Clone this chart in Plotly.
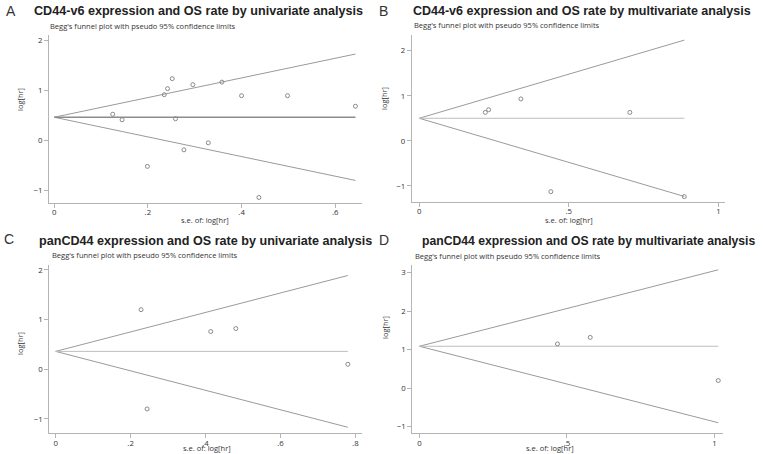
import plotly.graph_objects as go

# ---------------- data ----------------
# Panel A: CD44-v6, univariate
a_se = [0.125, 0.145, 0.235, 0.242, 0.252, 0.259, 0.296, 0.358, 0.400, 0.498, 0.643, 0.329, 0.277, 0.199, 0.437]
a_loghr = [0.52, 0.41, 0.91, 1.03, 1.23, 0.43, 1.11, 1.16, 0.89, 0.89, 0.68, -0.05, -0.19, -0.52, -1.14]
a_pooled = 0.46

# Panel B: CD44-v6, multivariate
b_se = [0.221, 0.232, 0.340, 0.704, 0.440, 0.886]
b_loghr = [0.63, 0.69, 0.93, 0.63, -1.13, -1.24]
b_pooled = 0.50

# Panel C: panCD44, univariate
c_se = [0.228, 0.414, 0.481, 0.780, 0.244]
c_loghr = [1.20, 0.76, 0.82, 0.10, -0.80]
c_pooled = 0.36

# Panel D: panCD44, multivariate
d_se = [0.468, 0.579, 1.013]
d_loghr = [1.15, 1.32, 0.20]
d_pooled = 1.09

letters = ["A", "B", "C", "D"]
titles = [
    "CD44-v6 expression and OS rate by univariate analysis",
    "CD44-v6 expression and OS rate by multivariate analysis",
    "panCD44 expression and OS rate by univariate analysis",
    "panCD44 expression and OS rate by multivariate analysis",
]
subtitle = "Begg's funnel plot with pseudo 95% confidence limits"
x_title = "s.e. of: log[hr]"
y_title = "log[hr]"

x_ticks = [[0, 0.2, 0.4, 0.6], [0, 0.5, 1], [0, 0.2, 0.4, 0.6, 0.8], [0, 0.5, 1]]
x_ticklabels = [["0", ".2", ".4", ".6"], ["0", ".5", "1"], ["0", ".2", ".4", ".6", ".8"], ["0", ".5", "1"]]
y_ticks = [[-1, 0, 1, 2], [-1, 0, 1, 2], [-1, 0, 1, 2], [-1, 0, 1, 2, 3]]
y_ticklabels = [["\u22121", "0", "1", "2"], ["\u22121", "0", "1", "2"], ["\u22121", "0", "1", "2"], ["\u22121", "0", "1", "2", "3"]]

panels = [(a_se, a_loghr, a_pooled), (b_se, b_loghr, b_pooled), (c_se, c_loghr, c_pooled), (d_se, d_loghr, d_pooled)]

# ---------------- layout (pixels) ----------------
W, H = 763, 454
# plot boxes: left, right, top, bottom in px
boxes = [(49, 362, 35, 203), (411.7, 725, 35, 202), (49.3, 361.7, 265, 433.3), (412.3, 723.3, 265, 433.3)]
x_ranges = [[-0.011, 0.657], [-0.025, 1.022], [-0.017, 0.817], [-0.024, 1.03]]
y_ranges = [[-1.25, 2.1], [-1.36, 2.35], [-1.29, 2.1], [-1.17, 3.2]]
letter_pos = [(11, 11), (384, 11), (9, 239), (384, 240)]
title_pos = [(199, 11), (582, 11), (206, 241), (588, 241)]
title_size = [12.6, 12.5, 12.6, 12.2]
sub_pos = [(48, 26), (412, 25), (50, 255), (413, 256)]
xt_pos = [(205, 220), (569, 220), (207, 448), (550, 448)]
yt_pos = [(20, 100), (384, 98), (20, 344), (385, 328)]

line_col = "#9a9a9a"
axis_col = "#b4b4b4"
text_col = "#333333"

fig = go.Figure()
annotations = []

for i, (se, lhr, pooled) in enumerate(panels):
    n = "" if i == 0 else str(i + 1)
    xa, ya = "x" + n, "y" + n
    smax = max(se)
    # funnel limits
    fig.add_trace(go.Scatter(x=[0, smax], y=[pooled, pooled + 1.96 * smax], mode="lines",
                             line=dict(color=line_col, width=1), xaxis=xa, yaxis=ya, showlegend=False, hoverinfo="skip"))
    fig.add_trace(go.Scatter(x=[0, smax], y=[pooled, pooled - 1.96 * smax], mode="lines",
                             line=dict(color=line_col, width=1), xaxis=xa, yaxis=ya, showlegend=False, hoverinfo="skip"))
    fig.add_trace(go.Scatter(x=[0, smax], y=[pooled, pooled], mode="lines",
                             line=dict(color="#8c8c8c" if i == 0 else "#bdbdbd", width=1.6 if i == 0 else 1),
                             xaxis=xa, yaxis=ya, showlegend=False, hoverinfo="skip"))
    fig.add_trace(go.Scatter(x=se, y=lhr, mode="markers",
                             marker=dict(symbol="circle-open", size=4, color="#8a8a8a", line=dict(width=1)),
                             xaxis=xa, yaxis=ya, showlegend=False))

    l, r, t, b = boxes[i]
    axcommon = dict(showline=True, linecolor=axis_col, linewidth=1, ticks="outside", ticklen=4,
                    tickcolor=axis_col, tickwidth=1, showgrid=False, zeroline=False,
                    tickfont=dict(family="Open Sans, Noto Sans, sans-serif", size=7.8, color=text_col))
    fig.update_layout(**{
        "xaxis" + n: dict(domain=[l / W, r / W], range=x_ranges[i], anchor=ya, ticklabelstandoff=-2,
                          tickvals=x_ticks[i], ticktext=x_ticklabels[i], **axcommon),
        "yaxis" + n: dict(domain=[1 - b / H, 1 - t / H], range=y_ranges[i], anchor=xa,
                          tickvals=y_ticks[i], ticktext=y_ticklabels[i], **axcommon),
    })

    annotations.append(dict(text=letters[i], x=letter_pos[i][0] / W, y=1 - letter_pos[i][1] / H,
                            xref="paper", yref="paper", showarrow=False, xanchor="center", yanchor="middle",
                            font=dict(family="Liberation Sans, Arial, sans-serif", size=14, color=text_col)))
    annotations.append(dict(text="<b>" + titles[i] + "</b>", x=title_pos[i][0] / W, y=1 - title_pos[i][1] / H,
                            xref="paper", yref="paper", showarrow=False, xanchor="center", yanchor="middle",
                            font=dict(family="Liberation Sans, Arial, sans-serif", size=title_size[i], color="#222222")))
    annotations.append(dict(text=subtitle, x=sub_pos[i][0] / W, y=1 - sub_pos[i][1] / H,
                            xref="paper", yref="paper", showarrow=False, xanchor="left", yanchor="middle",
                            font=dict(family="Open Sans, Noto Sans, sans-serif", size=7.5, color=text_col)))
    annotations.append(dict(text=x_title, x=xt_pos[i][0] / W, y=1 - xt_pos[i][1] / H,
                            xref="paper", yref="paper", showarrow=False, xanchor="center", yanchor="middle",
                            font=dict(family="Open Sans, Noto Sans, sans-serif", size=7.5, color=text_col)))
    annotations.append(dict(text=y_title, x=yt_pos[i][0] / W, y=1 - yt_pos[i][1] / H, textangle=-90,
                            xref="paper", yref="paper", showarrow=False, xanchor="center", yanchor="middle",
                            font=dict(family="Open Sans, Noto Sans, sans-serif", size=7.5, color=text_col)))

fig.update_layout(width=W, height=H, margin=dict(l=0, r=0, t=0, b=0),
                  paper_bgcolor="white", plot_bgcolor="white", annotations=annotations)

fig.write_html("out.html", config={"displayModeBar": False},
               post_script="document.body.style.margin='0';document.body.style.overflow='hidden';")
